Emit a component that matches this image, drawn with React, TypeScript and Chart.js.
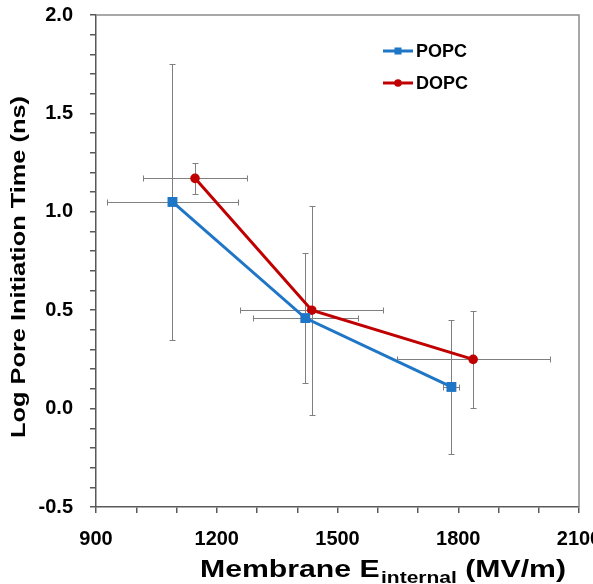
import React, { useEffect, useRef } from 'react';
import { Chart, registerables } from 'chart.js';

Chart.register(...registerables);

// ---- data ----
const seriesNames = ['POPC', 'DOPC'];
const popcX = [1090, 1420, 1783];
const popcY = [1.05, 0.46, 0.11];
const popcXErr = [162, 130, 20];
const popcYErr = [0.70, 0.33, 0.34];
const dopcX = [1146, 1436, 1837];
const dopcY = [1.17, 0.5, 0.25];
const dopcXErr = [128, 177, 190];
const dopcYErr = [0.08, 0.53, 0.245];
const xTickLabels = [900, 1200, 1500, 1800, 2100];
const yTickLabels = [-0.5, 0, 0.5, 1.0, 1.5, 2.0];

const BLUE = '#1f76c6';
const RED = '#c00000';
const FONT = "'Liberation Sans', Arial, sans-serif";

const errorBarPlugin = {
  id: 'errorBars',
  beforeDatasetsDraw(chart: any) {
    const { ctx } = chart;
    const xs = chart.scales.x;
    const ys = chart.scales.y;
    ctx.save();
    ctx.strokeStyle = '#7f7f7f';
    ctx.lineWidth = 1;
    const cap = 3;
    const r = (v: number) => Math.round(v) + 0.5;
    chart.data.datasets.forEach((ds: any) => {
      ds.data.forEach((p: any) => {
        const px = r(xs.getPixelForValue(p.x));
        const py = r(ys.getPixelForValue(p.y));
        const xl = r(xs.getPixelForValue(p.x - p.xe));
        const xr = r(xs.getPixelForValue(p.x + p.xe));
        const yt = r(ys.getPixelForValue(p.y + p.ye));
        const yb = r(ys.getPixelForValue(p.y - p.ye));
        ctx.beginPath();
        ctx.moveTo(xl, py); ctx.lineTo(xr, py);
        ctx.moveTo(xl, py - cap); ctx.lineTo(xl, py + cap);
        ctx.moveTo(xr, py - cap); ctx.lineTo(xr, py + cap);
        ctx.moveTo(px, yt); ctx.lineTo(px, yb);
        ctx.moveTo(px - cap, yt); ctx.lineTo(px + cap, yt);
        ctx.moveTo(px - cap, yb); ctx.lineTo(px + cap, yb);
        ctx.stroke();
      });
    });
    ctx.restore();
  },
};

const framePlugin = {
  id: 'frameAndText',
  afterDraw(chart: any) {
    const { ctx, chartArea } = chart;
    ctx.save();
    // top/right border
    ctx.strokeStyle = '#8c8c8c';
    ctx.lineWidth = 1.5;
    ctx.beginPath();
    ctx.moveTo(chartArea.left, chartArea.top);
    ctx.lineTo(chartArea.right, chartArea.top);
    ctx.lineTo(chartArea.right, chartArea.bottom);
    ctx.stroke();

    // legend
    const legendY = [51, 83];
    chart.data.datasets.forEach((ds: any, i: number) => {
      const y = legendY[i];
      ctx.strokeStyle = ds.borderColor;
      ctx.lineWidth = 3;
      ctx.beginPath();
      ctx.moveTo(383, y);
      ctx.lineTo(413, y);
      ctx.stroke();
      ctx.fillStyle = ds.borderColor;
      if (ds.pointStyle === 'rect') {
        ctx.fillRect(398 - 3.5, y - 3.5, 7, 7);
      } else {
        ctx.beginPath();
        ctx.arc(398, y, 3.8, 0, Math.PI * 2);
        ctx.fill();
      }
      ctx.fillStyle = '#000';
      ctx.font = `bold 18px ${FONT}`;
      ctx.textAlign = 'left';
      ctx.textBaseline = 'middle';
      ctx.fillText(ds.label, 416, y + 1);
    });

    // y title
    ctx.fillStyle = '#000';
    ctx.font = `bold 21px ${FONT}`;
    const yt = 'Log Pore Initiation Time (ns)';
    const yw = ctx.measureText(yt).width;
    ctx.save();
    ctx.translate(25, 267);
    ctx.rotate(-Math.PI / 2);
    ctx.scale(342 / yw, 1);
    ctx.textAlign = 'center';
    ctx.textBaseline = 'alphabetic';
    ctx.fillText(yt, 0, 0);
    ctx.restore();

    // x title with subscript
    const t1 = 'Membrane E';
    const t2 = 'internal';
    const t3 = ' (MV/m)';
    ctx.font = `bold 23px ${FONT}`;
    const w1 = ctx.measureText(t1).width;
    const w3 = ctx.measureText(t3).width;
    ctx.font = `bold 16px ${FONT}`;
    const w2 = ctx.measureText(t2).width;
    const total = w1 + w2 + w3 + 1;
    ctx.save();
    ctx.translate(200, 0);
    ctx.scale(366 / total, 1);
    ctx.textAlign = 'left';
    ctx.textBaseline = 'alphabetic';
    ctx.font = `bold 23px ${FONT}`;
    ctx.fillText(t1, 0, 577);
    ctx.font = `bold 16px ${FONT}`;
    ctx.fillText(t2, w1 + 1, 583);
    ctx.font = `bold 23px ${FONT}`;
    ctx.fillText(t3, w1 + 1 + w2, 577);
    ctx.restore();

    ctx.restore();
  },
};

export default function App() {
  const ref = useRef<HTMLCanvasElement | null>(null);
  useEffect(() => {
    if (!ref.current) return;
    const mk = (xs: number[], ys: number[], xe: number[], ye: number[]) =>
      xs.map((v, i) => ({ x: v, y: ys[i], xe: xe[i], ye: ye[i] }));
    const chart = new Chart(ref.current, {
      type: 'scatter',
      data: {
        datasets: [
          {
            label: seriesNames[0],
            data: mk(popcX, popcY, popcXErr, popcYErr),
            showLine: true,
            borderColor: BLUE,
            backgroundColor: BLUE,
            borderWidth: 3,
            pointStyle: 'rect',
            pointRadius: 7,
            pointBorderWidth: 0,
            pointBackgroundColor: BLUE,
          } as any,
          {
            label: seriesNames[1],
            data: mk(dopcX, dopcY, dopcXErr, dopcYErr),
            showLine: true,
            borderColor: RED,
            backgroundColor: RED,
            borderWidth: 3,
            pointStyle: 'circle',
            pointRadius: 4.8,
            pointBorderWidth: 0,
            pointBackgroundColor: RED,
          } as any,
        ],
      },
      options: {
        responsive: false,
        animation: false,
        devicePixelRatio: 1,
        layout: { padding: { left: 0, top: 15, right: 14, bottom: 0 } },
        plugins: {
          legend: { display: false },
          tooltip: { enabled: false },
          title: { display: false },
        },
        scales: {
          x: {
            type: 'linear',
            min: 900,
            max: 2100,
            afterFit(s: any) {
              s.height = 77;
              s.paddingLeft = 0;
              s.paddingRight = 0;
            },
            ticks: {
              stepSize: 100,
              autoSkip: false,
              maxTicksLimit: 100,
              maxRotation: 0,
              minRotation: 0,
              padding: 14,
              color: '#000',
              font: { family: FONT, size: 20, weight: 'bold' },
              callback: (v: any) =>
                xTickLabels.some((t) => Math.abs(t - Number(v)) < 1e-6) ? String(Math.round(Number(v))) : '',
            },
            grid: { drawOnChartArea: false, drawTicks: true, tickLength: 6, color: '#595959', lineWidth: 1.5 },
            border: { color: '#595959', width: 1.5 },
          },
          y: {
            type: 'linear',
            min: -0.5,
            max: 2.0,
            afterFit(s: any) {
              s.width = 96;
              s.paddingTop = 0;
              s.paddingBottom = 0;
            },
            ticks: {
              stepSize: 0.1,
              autoSkip: false,
              maxTicksLimit: 100,
              padding: 17,
              color: '#000',
              font: { family: FONT, size: 20, weight: 'bold' },
              callback: (v: any) =>
                yTickLabels.some((t) => Math.abs(t - Number(v)) < 1e-6) ? Number(v).toFixed(1) : '',
            },
            grid: { drawOnChartArea: false, drawTicks: true, tickLength: 6, color: '#595959', lineWidth: 1.5 },
            border: { color: '#595959', width: 1.5 },
          },
        },
      } as any,
      plugins: [errorBarPlugin, framePlugin],
    });
    return () => chart.destroy();
  }, []);
  return (
    <div style={{ position: 'absolute', left: 0, top: 0, width: 593, height: 584, background: '#fff' }}>
      <canvas ref={ref} width={593} height={584} style={{ display: 'block' }} />
    </div>
  );
}
